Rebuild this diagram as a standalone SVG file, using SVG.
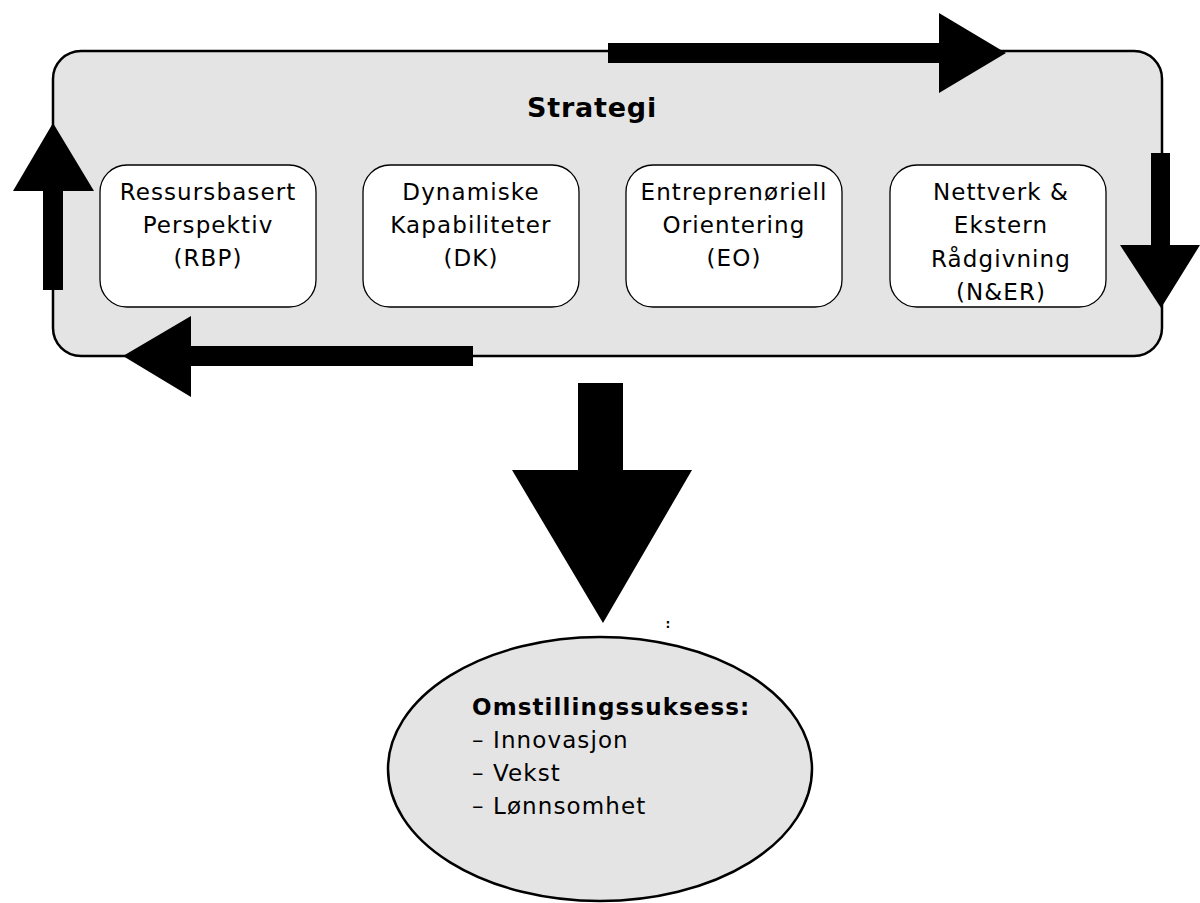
<svg xmlns="http://www.w3.org/2000/svg" width="1200" height="903" viewBox="0 0 1200 903">
<style>
.frame{fill:#e4e4e4;stroke:#000;stroke-width:2.5}
.box{fill:#fff;stroke:#000;stroke-width:1.3}
.t{font-family:"DejaVu Sans","Liberation Sans",sans-serif;font-size:23px;fill:#000;text-anchor:middle;letter-spacing:1.1px}
.tl{font-family:"DejaVu Sans","Liberation Sans",sans-serif;font-size:23px;fill:#000;letter-spacing:1.1px}
.b{font-weight:bold}
.arrow{fill:#000;stroke:none}
</style>
<rect width="1200" height="903" fill="#fff"/>
<g id="strategi">
<rect class="frame" x="53" y="51" width="1109" height="305" rx="28" ry="28"/>
<text class="t b" x="592" y="117" style="font-size:27px;letter-spacing:0.8px">Strategi</text>
</g>
<g id="rbp">
<rect class="box" x="100" y="165" width="216" height="142" rx="27" ry="27"/>
<text class="t" x="208" y="200">Ressursbasert</text>
<text class="t" x="208" y="233">Perspektiv</text>
<text class="t" x="208" y="266">(RBP)</text>
</g>
<g id="dk">
<rect class="box" x="363" y="165" width="216" height="142" rx="27" ry="27"/>
<text class="t" x="471" y="200">Dynamiske</text>
<text class="t" x="471" y="233">Kapabiliteter</text>
<text class="t" x="471" y="266">(DK)</text>
</g>
<g id="eo">
<rect class="box" x="626" y="165" width="216" height="142" rx="27" ry="27"/>
<text class="t" x="734" y="200">Entreprenøriell</text>
<text class="t" x="734" y="233">Orientering</text>
<text class="t" x="734" y="266">(EO)</text>
</g>
<g id="ner">
<rect class="box" x="890" y="165" width="216" height="142" rx="27" ry="27"/>
<text class="t" x="1001" y="200">Nettverk &amp;</text>
<text class="t" x="1001" y="233">Ekstern</text>
<text class="t" x="1001" y="267">Rådgivning</text>
<text class="t" x="1001" y="300">(N&amp;ER)</text>
</g>
<g id="omstilling">
<ellipse class="frame" cx="600" cy="769" rx="212" ry="132"/>
<text class="tl b" x="472" y="715">Omstillingssuksess:</text>
<text class="tl" x="472" y="748">– Innovasjon</text>
<text class="tl" x="472" y="781">– Vekst</text>
<text class="tl" x="472" y="814">– Lønnsomhet</text>
</g>
<g id="connectors">
<polygon class="arrow" points="608,43 939,43 939,13 1006,53 939,93 939,63 608,63"/>
<polygon class="arrow" points="1151,153 1170,153 1170,245 1200,245 1161,308 1120,245 1151,245"/>
<polygon class="arrow" points="473,346 473,366 191,366 191,397 123,356 191,316 191,346"/>
<polygon class="arrow" points="43,290 63,290 63,191 94,191 53,123 13,191 43,191"/>
<polygon class="arrow" points="578,383 623,383 623,470 692,470 603,623 512,470 578,470"/>
</g>
<text x="668" y="628" style="font-family:'DejaVu Sans',sans-serif;font-size:12px;font-weight:bold;fill:#000" text-anchor="middle">:</text>
</svg>
